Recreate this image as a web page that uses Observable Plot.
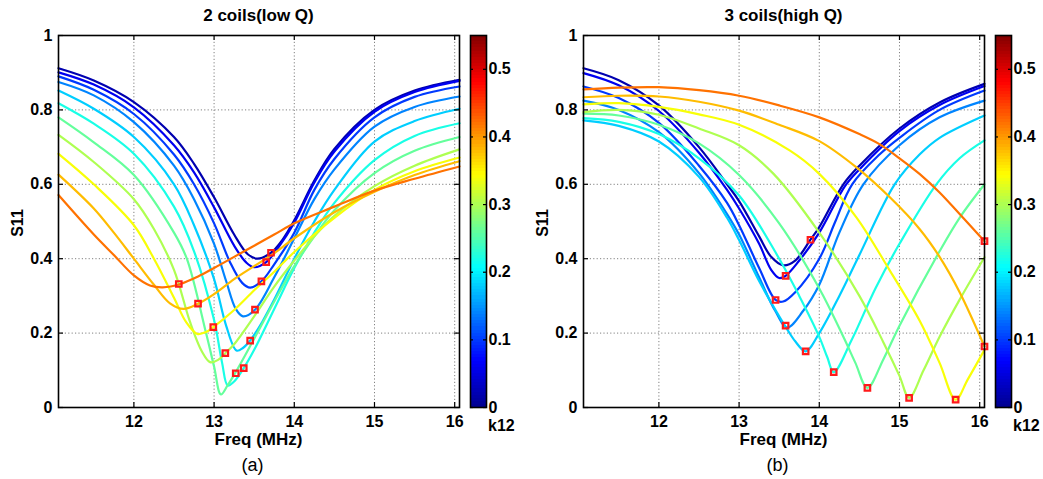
<!DOCTYPE html>
<html>
<head>
<meta charset="utf-8">
<script src="https://cdn.jsdelivr.net/npm/d3@7"></script>
<script src="https://cdn.jsdelivr.net/npm/@observablehq/plot@0.6"></script>
<style>
  html, body { margin: 0; padding: 0; background: #fff; }
  #wrap { position: relative; width: 1043px; height: 479px; overflow: hidden; background: #fff;
          font-family: "Liberation Sans", Arial, Helvetica, sans-serif; }
  #wrap svg { position: absolute; top: 0; }
</style>
</head>
<body>
<div id="wrap"></div>
<script>
// ---------------- data ----------------
const k12 = [0.02, 0.06, 0.10, 0.14, 0.18, 0.22, 0.26, 0.30, 0.34, 0.38, 0.42];

// (a) 2 coils (low Q): one [freq MHz, S11] list per k12 value
const lowQ = [
  [[11.06,0.912],[11.5,0.879],[12,0.821],[12.5,0.727],[12.75,0.655],[13,0.565],[13.25,0.465],[13.42,0.412],[13.54,0.40],[13.71,0.416],[13.85,0.45],[14,0.503],[14.25,0.61],[14.5,0.695],[15,0.80],[15.5,0.852],[16.06,0.881]],
  [[11.06,0.901],[11.5,0.868],[12,0.807],[12.5,0.705],[12.75,0.632],[13,0.538],[13.25,0.435],[13.4,0.39],[13.5,0.377],[13.65,0.391],[13.8,0.43],[14,0.497],[14.25,0.605],[14.5,0.688],[15,0.795],[15.5,0.848],[16.06,0.878]],
  [[11.06,0.89],[11.5,0.854],[12,0.789],[12.5,0.68],[12.75,0.60],[13,0.495],[13.2,0.39],[13.35,0.335],[13.45,0.322],[13.59,0.339],[13.75,0.385],[14,0.47],[14.25,0.585],[14.5,0.668],[15,0.78],[15.5,0.835],[16.06,0.863]],
  [[11.06,0.875],[11.5,0.839],[12,0.767],[12.5,0.65],[12.75,0.56],[13,0.44],[13.15,0.34],[13.27,0.265],[13.36,0.245],[13.51,0.263],[13.75,0.35],[14,0.455],[14.25,0.56],[14.5,0.64],[15,0.755],[15.5,0.808],[16.06,0.836]],
  [[11.06,0.852],[11.5,0.803],[12,0.727],[12.5,0.60],[12.75,0.49],[13,0.345],[13.15,0.22],[13.28,0.153],[13.36,0.16],[13.45,0.18],[13.6,0.23],[13.75,0.29],[14,0.40],[14.25,0.50],[14.5,0.585],[15,0.715],[15.5,0.77],[16.06,0.803]],
  [[11.06,0.818],[11.5,0.763],[12,0.682],[12.5,0.54],[12.75,0.42],[13,0.235],[13.1,0.12],[13.17,0.059],[13.25,0.07],[13.37,0.106],[13.5,0.155],[13.75,0.265],[14,0.375],[14.25,0.47],[14.5,0.55],[15,0.665],[15.5,0.73],[16.06,0.764]],
  [[11.06,0.78],[11.5,0.713],[12,0.625],[12.5,0.47],[12.66,0.40],[12.9,0.20],[13.0,0.11],[13.085,0.035],[13.17,0.06],[13.27,0.095],[13.5,0.185],[13.75,0.285],[14,0.38],[14.25,0.46],[14.5,0.53],[15,0.63],[15.5,0.69],[16.06,0.727]],
  [[11.06,0.733],[11.5,0.66],[12,0.56],[12.25,0.48],[12.5,0.37],[12.7,0.23],[12.85,0.15],[12.95,0.122],[13.05,0.128],[13.14,0.146],[13.25,0.17],[13.5,0.245],[13.75,0.325],[14,0.395],[14.25,0.46],[14.5,0.515],[15,0.595],[15.5,0.65],[16.06,0.694]],
  [[11.06,0.682],[11.5,0.60],[12,0.49],[12.25,0.40],[12.5,0.295],[12.65,0.23],[12.79,0.198],[12.9,0.203],[12.99,0.216],[13.25,0.262],[13.5,0.315],[13.75,0.365],[14,0.418],[14.5,0.51],[15,0.585],[15.5,0.635],[16.06,0.672]],
  [[11.06,0.626],[11.5,0.535],[11.75,0.47],[12,0.40],[12.25,0.33],[12.45,0.28],[12.62,0.265],[12.8,0.279],[13,0.305],[13.25,0.345],[13.5,0.38],[13.75,0.415],[14,0.455],[14.5,0.525],[15,0.58],[15.5,0.625],[16.06,0.662]],
  [[11.06,0.571],[11.5,0.465],[11.75,0.41],[12,0.355],[12.2,0.328],[12.36,0.323],[12.58,0.332],[12.8,0.352],[13,0.375],[13.25,0.405],[13.5,0.435],[13.75,0.465],[14,0.495],[14.5,0.54],[15,0.583],[15.5,0.615],[16.06,0.648]]
];
const lowQMarkF = [13.71, 13.65, 13.59, 13.51, 13.45, 13.37, 13.27, 13.14, 12.99, 12.80, 12.56];
const lowQMarkS = [0.416, 0.391, 0.339, 0.263, 0.180, 0.106, 0.092, 0.146, 0.216, 0.279, 0.332];

// (b) 3 coils (high Q)
const highQ = [
  [[11.06,0.912],[11.5,0.88],[12,0.812],[12.5,0.70],[12.85,0.60],[13,0.555],[13.25,0.46],[13.4,0.405],[13.55,0.382],[13.7,0.395],[13.89,0.451],[14,0.485],[14.3,0.60],[14.5,0.65],[15,0.75],[15.5,0.82],[16.06,0.87]],
  [[11.06,0.899],[11.5,0.866],[12,0.797],[12.5,0.685],[12.85,0.585],[13,0.535],[13.25,0.44],[13.4,0.37],[13.5,0.348],[13.58,0.354],[13.75,0.395],[14,0.47],[14.32,0.595],[14.5,0.64],[15,0.743],[15.5,0.813],[16.06,0.864]],
  [[11.06,0.863],[11.5,0.832],[12,0.765],[12.5,0.65],[12.85,0.55],[13,0.49],[13.25,0.375],[13.455,0.289],[13.55,0.285],[13.7,0.31],[14,0.40],[14.2,0.50],[14.41,0.60],[14.75,0.68],[15,0.725],[15.5,0.80],[16.06,0.852]],
  [[11.06,0.825],[11.5,0.80],[12,0.74],[12.5,0.63],[12.85,0.52],[13,0.465],[13.25,0.35],[13.45,0.26],[13.6,0.215],[13.8,0.26],[14,0.33],[14.25,0.47],[14.55,0.60],[15,0.705],[15.5,0.78],[16.06,0.825]],
  [[11.06,0.772],[11.5,0.757],[12,0.715],[12.5,0.62],[12.85,0.51],[13,0.45],[13.25,0.34],[13.5,0.245],[13.6,0.21],[13.7,0.178],[13.83,0.151],[14,0.20],[14.25,0.30],[14.5,0.41],[14.94,0.60],[15.25,0.68],[15.5,0.725],[16.06,0.785]],
  [[11.06,0.778],[11.5,0.768],[12,0.735],[12.5,0.67],[13,0.57],[13.5,0.40],[13.75,0.30],[14,0.19],[14.1,0.135],[14.18,0.095],[14.4,0.18],[14.7,0.32],[15,0.44],[15.46,0.60],[15.75,0.67],[16.06,0.718]],
  [[11.06,0.79],[11.5,0.785],[12,0.76],[12.5,0.71],[13,0.625],[13.5,0.495],[14,0.32],[14.3,0.19],[14.45,0.12],[14.6,0.053],[14.8,0.13],[15,0.22],[15.5,0.42],[15.75,0.51],[16.06,0.60]],
  [[11.06,0.794],[11.5,0.80],[12,0.787],[12.5,0.75],[13,0.705],[13.43,0.628],[14,0.47],[14.5,0.30],[14.8,0.175],[15.0,0.085],[15.12,0.026],[15.3,0.10],[15.5,0.19],[15.75,0.29],[16.06,0.404]],
  [[11.06,0.815],[11.5,0.818],[12,0.808],[12.5,0.788],[13,0.76],[13.63,0.691],[14,0.628],[14.46,0.512],[14.88,0.368],[15.25,0.234],[15.5,0.12],[15.7,0.021],[15.85,0.075],[16.06,0.155]],
  [[11.06,0.834],[11.5,0.838],[12,0.836],[12.5,0.822],[13,0.798],[13.5,0.76],[14,0.716],[14.46,0.646],[14.88,0.565],[15.25,0.48],[15.5,0.405],[15.75,0.31],[16.06,0.164]],
  [[11.06,0.855],[11.5,0.86],[12,0.861],[12.5,0.853],[13,0.838],[13.5,0.812],[14,0.78],[14.5,0.735],[14.75,0.708],[15,0.67],[15.25,0.628],[15.5,0.578],[15.75,0.52],[16.06,0.447]]
];
const highQMarkF = [13.89, 13.58, 13.455, 13.58, 13.83, 14.18, 14.60, 15.12, 15.70, 16.06, 16.06];
const highQMarkS = [0.451, 0.354, 0.289, 0.220, 0.151, 0.095, 0.053, 0.026, 0.021, 0.164, 0.447];

// axes / text
const freqRange = [11.06, 16.06];
const xTicks = [12, 13, 14, 15, 16];
const yTicks = [0, 0.2, 0.4, 0.6, 0.8, 1];
const cbRange = [0, 0.55];
const cbTicks = [0, 0.1, 0.2, 0.3, 0.4, 0.5];
const titles = ["2 coils(low Q)", "3 coils(high Q)"];
const tags = ["(a)", "(b)"];
const xLabel = "Freq (MHz)";
const yLabel = "S11";
const cbLabel = "k12";

// jet colormap (fractions of the colour-bar range)
const jetStops = [0, 0.125, 0.375, 0.625, 0.875, 1];
const jetColors = ["#00008f", "#0000ff", "#00ffff", "#ffff00", "#ff0000", "#800000"];

// ---------------- layout ----------------
const FONT = "Liberation Sans, Arial, Helvetica, sans-serif";
const W = 518, H = 479, MT = 35, MB = 72, ML = 58, MR = 59;
const innerW = W - ML - MR, innerH = H - MT - MB;
const panelX = [0, 525];
const colorScale = {type: "linear", domain: jetStops.map(t => t * cbRange[1]), range: jetColors, interpolate: "rgb"};

function mainPanel(curves, markF, markS) {
  const rows = curves.flatMap((c, i) => c.map(([f, s]) => ({f, s, k: k12[i]})));
  const marks = markF.map((f, i) => ({f, s: markS[i], k: k12[i]}));
  return Plot.plot({
    width: W, height: H, marginTop: MT, marginBottom: MB, marginLeft: ML, marginRight: MR,
    style: {fontFamily: FONT, fontSize: "16px", fontWeight: "bold", color: "#000", background: "transparent", overflow: "visible"},
    x: {domain: freqRange},
    y: {domain: [0, 1]},
    color: colorScale,
    marks: [
      Plot.gridX(xTicks, {stroke: "#808080", strokeOpacity: 1, strokeWidth: 1, strokeDasharray: "1.2,2.2"}),
      Plot.gridY(yTicks.slice(1, -1), {stroke: "#808080", strokeOpacity: 1, strokeWidth: 1, strokeDasharray: "1.2,2.2"}),
      Plot.line(rows, {x: "f", y: "s", z: "k", stroke: "k", strokeWidth: 2.2, curve: "catmull-rom"}),
      Plot.dot(marks, {x: "f", y: "s", symbol: "square", r: 3.1, stroke: "#ff1a1a", strokeWidth: 2.2, fill: "none"}),
      Plot.tickX(xTicks, {x: d => d, insetTop: innerH - 5, stroke: "#000", strokeWidth: 1.2}),
      Plot.tickX(xTicks, {x: d => d, insetBottom: innerH - 5, stroke: "#000", strokeWidth: 1.2}),
      Plot.tickY(yTicks, {y: d => d, insetRight: innerW - 5, stroke: "#000", strokeWidth: 1.2}),
      Plot.tickY(yTicks, {y: d => d, insetLeft: innerW - 5, stroke: "#000", strokeWidth: 1.2}),
      Plot.frame({stroke: "#000", strokeWidth: 1.6}),
      Plot.axisX(xTicks, {anchor: "bottom", tickSize: 0, tickPadding: 8, tickFormat: d => String(d), label: null, fontSize: 16, fontWeight: "bold"}),
      Plot.axisY(yTicks, {anchor: "left", tickSize: 0, tickPadding: 6, tickFormat: d => String(d), label: null, fontSize: 16, fontWeight: "bold"})
    ]
  });
}

function colorBar() {
  const n = 120;
  const bands = d3.range(n).map(i => ({y1: cbRange[1] * i / n, y2: cbRange[1] * (i + 1) / n}));
  const barW = 16;
  return Plot.plot({
    width: 1 + barW + 33, height: H, marginTop: MT, marginBottom: MB, marginLeft: 1, marginRight: 33,
    style: {fontFamily: FONT, fontSize: "16px", fontWeight: "bold", color: "#000", background: "transparent", overflow: "visible"},
    x: {domain: [0, 1], axis: null},
    y: {domain: cbRange},
    color: colorScale,
    marks: [
      Plot.rect(bands, {y1: "y1", y2: "y2", fill: d => (d.y1 + d.y2) / 2, shapeRendering: "crispEdges"}),
      Plot.tickY(cbTicks, {y: d => d, insetRight: barW - 3, stroke: "#000", strokeWidth: 1.2}),
      Plot.tickY(cbTicks, {y: d => d, insetLeft: barW - 3, stroke: "#000", strokeWidth: 1.2}),
      Plot.frame({stroke: "#000", strokeWidth: 1.6}),
      Plot.axisY(cbTicks, {anchor: "right", tickSize: 0, tickPadding: 2, tickFormat: d => String(d), label: null, fontSize: 16, fontWeight: "bold"})
    ]
  });
}

const wrap = document.getElementById("wrap");
[[lowQ, lowQMarkF, lowQMarkS], [highQ, highQMarkF, highQMarkS]].forEach(([c, mf, ms], p) => {
  const svg = mainPanel(c, mf, ms);
  svg.style.left = panelX[p] + "px";
  wrap.appendChild(svg);
  const cb = colorBar();
  cb.style.left = (panelX[p] + ML + innerW + 11 - 1) + "px";
  wrap.appendChild(cb);
});

// ---------------- text overlay ----------------
const ov = d3.select(wrap).append("svg")
  .attr("width", 1043).attr("height", 479)
  .style("left", "0px").style("pointer-events", "none")
  .attr("font-family", FONT).attr("fill", "#000");

panelX.forEach((ox, p) => {
  const cx = ox + ML + innerW / 2;
  ov.append("text").attr("x", cx).attr("y", 21).attr("text-anchor", "middle")
    .attr("font-size", 17).attr("font-weight", "bold").text(titles[p]);
  ov.append("text").attr("x", cx).attr("y", 445).attr("text-anchor", "middle")
    .attr("font-size", 17).attr("font-weight", "bold").text(xLabel);
  ov.append("text").attr("transform", `translate(${ox + 23},${MT + innerH / 2 + 2}) rotate(-90)`)
    .attr("text-anchor", "middle").attr("font-size", 16).attr("font-weight", "bold").text(yLabel);
  ov.append("text").attr("x", cx - 6).attr("y", 471).attr("text-anchor", "middle")
    .attr("font-size", 18).text(tags[p]);
  ov.append("text").attr("x", ox + ML + innerW + 29).attr("y", 431)
    .attr("font-size", 16).attr("font-weight", "bold").text(cbLabel);
});
</script>
</body>
</html>
